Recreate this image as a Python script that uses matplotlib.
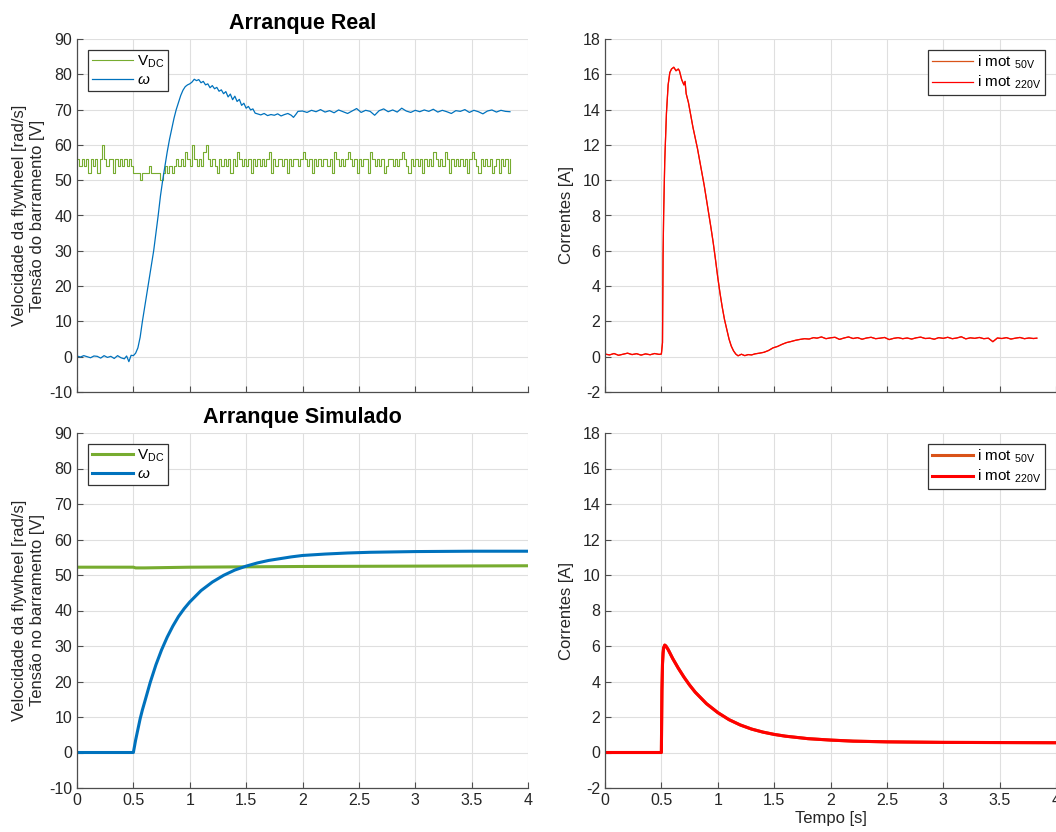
import numpy as np
import matplotlib.pyplot as plt

plt.rcParams['font.family'] = ['Liberation Sans', 'DejaVu Sans']
plt.rcParams['mathtext.fontset'] = 'custom'
plt.rcParams['mathtext.rm'] = 'Liberation Sans'
plt.rcParams['mathtext.it'] = 'Liberation Sans:italic'
plt.rcParams['axes.unicode_minus'] = False

# cores tipo MATLAB
VERDE = '#77AC30'
AZUL = '#0072BD'
LARANJA = '#D95319'
VERMELHO = '#FF0000'
CINZA = '#262626'

# ---------------- arranque real ----------------
# tensao do barramento, amostrada de 0 a 3.84 s (passo 0.02 s)
vdc_real = [
    56, 54, 56, 54, 56, 52, 56, 54, 56, 52,
    56, 60, 56, 54, 56, 56, 52, 56, 54, 56,
    54, 56, 54, 56, 54, 52, 52, 52, 50, 52,
    52, 52, 54, 52, 52, 52, 52, 50, 52, 54,
    52, 54, 52, 54, 56, 54, 56, 54, 58, 56,
    54, 60, 56, 54, 56, 54, 58, 60, 56, 54,
    56, 54, 52, 56, 54, 56, 54, 56, 52, 56,
    54, 58, 56, 54, 56, 54, 56, 52, 56, 54,
    56, 54, 56, 54, 56, 58, 52, 56, 54, 56,
    56, 54, 56, 52, 56, 54, 56, 56, 54, 56,
    58, 56, 54, 56, 52, 56, 54, 56, 54, 56,
    56, 54, 56, 52, 58, 56, 54, 56, 54, 56,
    58, 56, 54, 56, 52, 56, 54, 56, 56, 52,
    58, 56, 54, 56, 54, 56, 52, 54, 56, 56,
    54, 56, 54, 56, 58, 56, 54, 52, 56, 54,
    56, 54, 56, 52, 56, 54, 56, 54, 58, 56,
    54, 56, 54, 58, 56, 52, 56, 54, 56, 54,
    56, 54, 56, 52, 56, 58, 56, 54, 52, 56,
    54, 56, 54, 56, 52, 54, 56, 52, 56, 54,
    56, 52, 56,
]
t_vdc_real = np.linspace(0, 3.84, len(vdc_real))

# velocidade da flywheel
t_w_real = [
    0.00, 0.03, 0.06, 0.09, 0.12, 0.15, 0.18, 0.21, 0.24, 0.27,
    0.30, 0.33, 0.36, 0.39, 0.42, 0.44, 0.46, 0.48, 0.50,
    0.52, 0.54, 0.56, 0.58, 0.60, 0.62, 0.64, 0.66, 0.68, 0.70,
    0.72, 0.74, 0.76, 0.78, 0.80, 0.82, 0.84, 0.86, 0.88, 0.90,
    0.92, 0.94, 0.96, 0.98, 1.00, 1.02, 1.04, 1.06, 1.08, 1.10,
    1.12, 1.14, 1.16, 1.18, 1.20, 1.22, 1.24, 1.26, 1.28, 1.30,
    1.32, 1.34, 1.36, 1.38, 1.40, 1.42, 1.44, 1.46, 1.48, 1.50,
    1.52, 1.54, 1.56, 1.58, 1.60, 1.63, 1.66, 1.69, 1.72, 1.75,
    1.78, 1.81, 1.84, 1.87, 1.90, 1.92, 1.94, 1.96,
    2.00, 2.04, 2.08, 2.12, 2.16, 2.20, 2.24, 2.28, 2.32, 2.36,
    2.40, 2.44, 2.48, 2.52, 2.56, 2.60, 2.64, 2.68, 2.72, 2.76,
    2.80, 2.84, 2.88, 2.92, 2.96, 3.00, 3.04, 3.08, 3.12, 3.16,
    3.20, 3.24, 3.28, 3.32, 3.36, 3.40, 3.44, 3.48, 3.52, 3.56,
    3.60, 3.64, 3.68, 3.72, 3.76, 3.80, 3.84,
]
w_real = [
    0.2, -0.1, 0.3, 0.0, -0.3, 0.2, 0.1, -0.4, 0.3, -0.2,
    0.1, -0.5, 0.3, -0.3, -0.6, 0.2, -1.4, 0.4, 0.3,
    1.0, 2.5, 5.5, 10.0, 14.0, 18.0, 22.0, 26.0, 30.0, 35.0,
    40.0, 45.5, 50.0, 54.0, 58.0, 61.5, 64.5, 67.5, 70.0, 72.0,
    74.0, 75.5, 76.5, 77.0, 77.3, 77.8, 78.6, 78.2, 78.5, 77.6,
    78.0, 77.0, 77.3, 76.2, 76.8, 75.9, 76.3, 75.2, 75.6, 74.5,
    75.1, 73.6, 74.4, 72.8, 73.8, 72.3, 72.9, 71.2, 71.8, 70.4,
    70.9, 69.9, 70.2, 69.0, 68.8, 68.5, 68.9, 68.3, 68.6, 68.4,
    68.8, 68.2, 68.6, 68.9, 68.4, 67.8, 68.6, 69.5,
    69.6, 69.2, 69.8, 69.4, 70.0, 69.3, 69.7, 69.1, 69.9, 69.4,
    68.9, 69.6, 70.3, 69.2, 69.8, 69.5, 68.4, 69.7, 70.2, 69.4,
    69.9, 69.3, 70.4, 69.6, 69.2, 69.8, 69.4, 69.9, 69.5, 70.1,
    69.3, 69.8, 69.4, 68.9, 69.7, 69.5, 70.0, 69.2, 69.8, 69.4,
    68.8, 69.6, 69.9, 69.3, 69.8, 69.5, 69.4,
]

# corrente do motor
t_i_real = [
    0.00, 0.04, 0.08, 0.12, 0.16, 0.20, 0.24, 0.28, 0.32, 0.36,
    0.40, 0.44, 0.48, 0.50, 0.51, 0.515, 0.52, 0.53, 0.545, 0.56,
    0.575, 0.59, 0.61, 0.63, 0.65, 0.66, 0.68, 0.70, 0.71, 0.72,
    0.74, 0.76, 0.78, 0.80, 0.82, 0.84, 0.86, 0.88, 0.90, 0.92,
    0.94, 0.96, 0.98, 1.00, 1.02, 1.04, 1.06, 1.08, 1.10, 1.12,
    1.14, 1.16, 1.18, 1.21, 1.24, 1.27, 1.30, 1.33, 1.37, 1.41,
    1.45, 1.49, 1.53, 1.57, 1.61, 1.65, 1.69, 1.73, 1.77, 1.81,
    1.85, 1.88, 1.92, 1.96, 2.00, 2.04, 2.08, 2.12, 2.16, 2.20,
    2.24, 2.28, 2.32, 2.36, 2.40, 2.44, 2.48, 2.52, 2.56, 2.60,
    2.64, 2.68, 2.72, 2.76, 2.80, 2.84, 2.88, 2.92, 2.96, 3.00,
    3.04, 3.08, 3.12, 3.16, 3.20, 3.24, 3.28, 3.32, 3.36, 3.40,
    3.44, 3.48, 3.52, 3.56, 3.60, 3.64, 3.68, 3.72, 3.76, 3.80,
    3.83,
]
i_real = [
    0.15, 0.10, 0.18, 0.08, 0.14, 0.20, 0.12, 0.17, 0.09, 0.16,
    0.11, 0.18, 0.13, 0.15, 0.8, 5.7, 8.0, 11.1, 13.8, 15.4,
    16.1, 16.3, 16.4, 16.2, 16.3, 16.2, 15.7, 15.4, 15.6, 14.9,
    14.4, 13.7, 13.0, 12.4, 11.8, 11.1, 10.4, 9.7, 8.9, 8.1,
    7.3, 6.45, 5.5, 4.5, 3.6, 2.8, 2.1, 1.55, 1.0, 0.6,
    0.33, 0.15, 0.05, 0.14, 0.06, 0.12, 0.10, 0.16, 0.20, 0.25,
    0.35, 0.50, 0.58, 0.70, 0.80, 0.86, 0.93, 0.98, 1.02, 1.00,
    1.08, 1.05, 1.12, 1.02, 1.07, 1.10, 0.98, 1.06, 1.12, 1.03,
    1.08, 0.99, 1.06, 1.10, 1.02, 1.05, 1.09, 0.97, 1.04, 1.08,
    1.02, 1.06, 1.00, 1.07, 1.11, 1.03, 1.05, 0.99, 1.08, 1.04,
    1.10, 1.02, 1.06, 1.13, 1.01, 1.07, 1.04, 1.09, 1.02, 1.05,
    0.85, 1.06, 1.03, 1.08, 1.00, 1.05, 1.09, 1.02, 1.06, 1.03,
    1.05,
]

# ---------------- arranque simulado ----------------
t_vdc_sim = [0.0, 0.5, 0.52, 0.6, 1.0, 2.0, 3.0, 4.0]
vdc_sim = [52.2, 52.2, 52.0, 52.0, 52.2, 52.4, 52.5, 52.6]

t_w_sim = [0.0, 0.5, 0.52, 0.54, 0.56, 0.58, 0.60, 0.65, 0.70, 0.75,
           0.80, 0.85, 0.90, 0.95, 1.0, 1.1, 1.2, 1.3, 1.4, 1.5,
           1.6, 1.7, 1.8, 1.9, 2.0, 2.2, 2.4, 2.6, 2.8, 3.0, 3.5, 4.0]
w_sim = [0.0, 0.0, 3.5, 6.5, 9.5, 12.0, 14.2, 19.8, 24.7, 28.9,
         32.5, 35.6, 38.3, 40.5, 42.4, 45.6, 48.0, 49.9, 51.4, 52.5,
         53.4, 54.1, 54.6, 55.1, 55.5, 55.9, 56.2, 56.4, 56.5, 56.6, 56.7, 56.7]

t_i_sim = [0.0, 0.5, 0.502, 0.505, 0.51, 0.515, 0.52, 0.53, 0.54, 0.56,
           0.60, 0.65, 0.70, 0.75, 0.80, 0.90, 1.0, 1.1, 1.2, 1.3,
           1.4, 1.5, 1.6, 1.8, 2.0, 2.2, 2.5, 3.0, 3.5, 4.0]
i_sim = [0.0, 0.0, 1.5, 3.5, 5.0, 5.6, 5.9, 6.05, 6.0, 5.8,
         5.3, 4.75, 4.25, 3.8, 3.4, 2.75, 2.25, 1.85, 1.55, 1.32,
         1.15, 1.02, 0.92, 0.78, 0.70, 0.64, 0.60, 0.57, 0.56, 0.55]

x_ticks = [0, 0.5, 1, 1.5, 2, 2.5, 3, 3.5, 4]
x_ticklabels = ['0', '0.5', '1', '1.5', '2', '2.5', '3', '3.5', '4']

fig = plt.figure(figsize=(10.56, 8.32), dpi=100)
W, H = 1056.0, 832.0


def eixo(x0, y0, x1, y1):
    return fig.add_axes([x0 / W, 1 - y1 / H, (x1 - x0) / W, (y1 - y0) / H])


def estilo(ax, ymin, ymax, ystep, rotulos_x):
    ax.set_xlim(0, 4)
    ax.set_ylim(ymin, ymax)
    ax.set_xticks(x_ticks)
    ax.set_yticks(np.arange(ymin, ymax + ystep / 2, ystep))
    if rotulos_x:
        ax.set_xticklabels(x_ticklabels)
    else:
        ax.set_xticklabels([])
    ax.grid(True, color='#DFDFDF', linewidth=0.8)
    ax.set_axisbelow(True)
    for s in ['top', 'right']:
        ax.spines[s].set_visible(False)
    for s in ['left', 'bottom']:
        ax.spines[s].set_color('#4D4D4D')
        ax.spines[s].set_linewidth(0.9)
    ax.tick_params(direction='in', length=4, width=0.8, colors='#4D4D4D',
                   labelcolor=CINZA, labelsize=11.5)


def legenda(ax, loc):
    leg = ax.legend(loc=loc, fontsize=11, fancybox=False, framealpha=1,
                    edgecolor='#333333', handlelength=2.7, handletextpad=0.25,
                    borderpad=0.25, labelspacing=0.2, borderaxespad=0.7)
    leg.get_frame().set_linewidth(0.9)


# superior esquerdo
ax1 = eixo(77, 39, 528, 392)
ax1.plot(t_vdc_real, vdc_real, color=VERDE, lw=0.8, drawstyle='steps-post',
         label=r'V$_{\mathrm{DC}}$')
ax1.plot(t_w_real, w_real, color=AZUL, lw=0.9, label=r'$\omega$')
estilo(ax1, -10, 90, 10, False)
ax1.set_ylabel('Velocidade da flywheel [rad/s]\nTensão do barramento [V]',
               fontsize=12, color=CINZA, linespacing=1.25, labelpad=3)
ax1.set_title('Arranque Real', fontsize=15.5, fontweight='bold', pad=7)
legenda(ax1, 'upper left')

# superior direito
ax2 = eixo(605, 39, 1056, 392)
ax2.plot(t_i_real, i_real, color=LARANJA, lw=0.9, label=r'i mot $_{\mathrm{50V}}$')
ax2.plot(t_i_real, i_real, color=VERMELHO, lw=0.9, label=r'i mot $_{\mathrm{220V}}$')
estilo(ax2, -2, 18, 2, False)
ax2.set_ylabel('Correntes [A]', fontsize=12, color=CINZA, labelpad=6)
legenda(ax2, 'upper right')

# inferior esquerdo
ax3 = eixo(77, 433, 528, 788)
ax3.plot(t_vdc_sim, vdc_sim, color=VERDE, lw=2.2, label=r'V$_{\mathrm{DC}}$')
ax3.plot(t_w_sim, w_sim, color=AZUL, lw=2.2, label=r'$\omega$')
estilo(ax3, -10, 90, 10, True)
ax3.set_ylabel('Velocidade da flywheel [rad/s]\nTensão no barramento [V]',
               fontsize=12, color=CINZA, linespacing=1.25, labelpad=3)
ax3.set_title('Arranque Simulado', fontsize=15.5, fontweight='bold', pad=7)
legenda(ax3, 'upper left')

# inferior direito
ax4 = eixo(605, 433, 1056, 788)
ax4.plot(t_i_sim, i_sim, color=LARANJA, lw=2.2, label=r'i mot $_{\mathrm{50V}}$')
ax4.plot(t_i_sim, i_sim, color=VERMELHO, lw=2.2, label=r'i mot $_{\mathrm{220V}}$')
estilo(ax4, -2, 18, 2, True)
ax4.set_ylabel('Correntes [A]', fontsize=12, color=CINZA, labelpad=6)
ax4.set_xlabel('Tempo [s]', fontsize=12, color=CINZA, labelpad=2)
legenda(ax4, 'upper right')

fig.savefig('out.png', dpi=100)
